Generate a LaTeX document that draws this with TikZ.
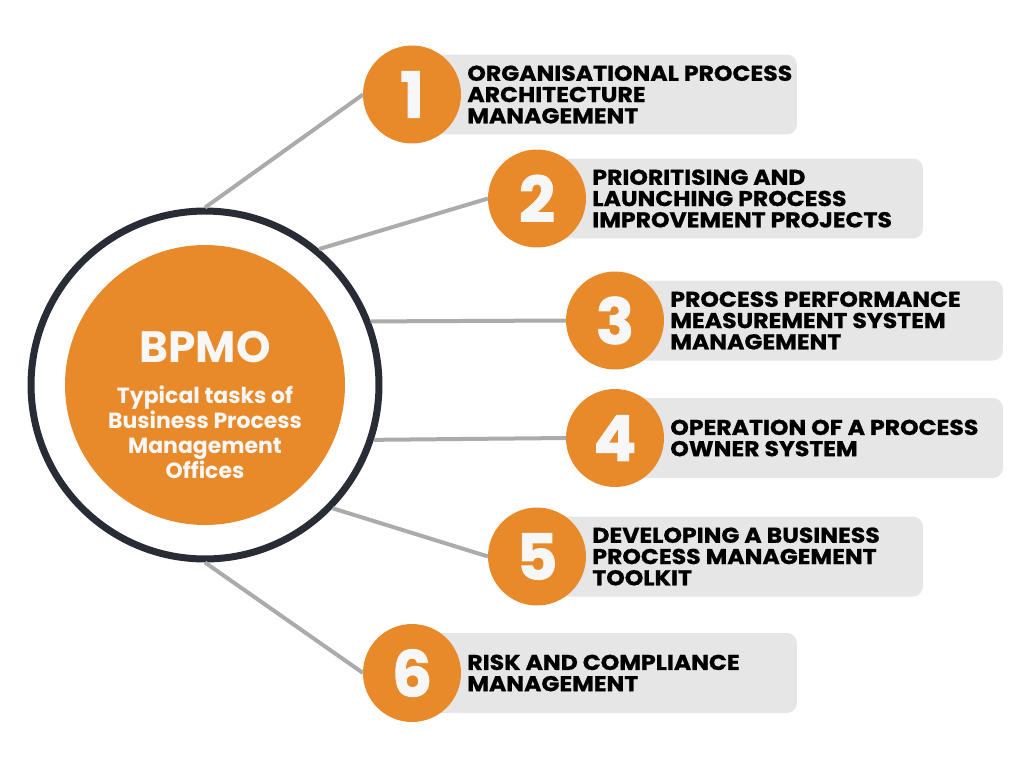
\documentclass[tikz,border=0pt]{standalone}
\usepackage{fontspec}
\setmainfont{Poppins}
\usetikzlibrary{positioning}
\definecolor{bpmoorange}{HTML}{E88A2A}
\definecolor{boxgray}{HTML}{E6E6E6}
\definecolor{linkgray}{HTML}{ABABAB}
\definecolor{ringdark}{HTML}{272C35}
\definecolor{softwhite}{HTML}{F7F7F7}

\begin{document}
\begin{tikzpicture}[x=0.02cm,y=-0.02cm,
    outerring/.style={circle,draw=ringdark,line width=0.14cm,fill=white,minimum size=6.96cm},
    hub/.style={circle,fill=bpmoorange,minimum size=5.6cm},
    num/.style={circle,fill=bpmoorange,minimum size=1.96cm,inner sep=0pt,outer sep=0pt,
      text=softwhite,font=\fontsize{36}{36}\selectfont\bfseries\addfontfeatures{FakeBold=1.5}},
    taskbox/.style={fill=boxgray,rounded corners=0.2cm,minimum height=1.6cm,anchor=west,outer sep=0pt},
    tasktext/.style={align=left,inner sep=0pt,
      font=\fontsize{12.2}{12.1}\selectfont\bfseries\addfontfeatures{FakeStretch=1.1,FakeBold=1}},
    link/.style={draw=linkgray,line width=0.08cm}]
  \useasboundingbox (0,0) rectangle (1024,768);

  % centre
  \node[outerring] (ring) at (205,385) {};
  \node[hub] (hub) at (205,385) {};
  \node[text=softwhite,font=\fontsize{25}{25}\selectfont\bfseries] (title) at (205,347.5) {BPMO};
  \node[text=softwhite,align=center,inner sep=0pt,
    font=\fontsize{12.5}{14.2}\selectfont\bfseries] (subtitle) at (205,432)
    {Typical tasks of\\Business Process\\Management\\Offices};

  % tasks
  \node[taskbox,minimum width=7.7cm]  (b1) at (412,94.5) {};
  \node[taskbox,minimum width=7.72cm] (b2) at (537,198.5) {};
  \node[taskbox,minimum width=7.76cm] (b3) at (615,320.5) {};
  \node[taskbox,minimum width=7.76cm] (b4) at (615,438) {};
  \node[taskbox,minimum width=7.72cm] (b5) at (537,556.5) {};
  \node[taskbox,minimum width=7.7cm]  (b6) at (412,673) {};

  \node[num] (n1) at (b1.west) {1};
  \node[num] (n2) at (b2.west) {2};
  \node[num] (n3) at (b3.west) {3};
  \node[num] (n4) at (b4.west) {4};
  \node[num] (n5) at (b5.west) {5};
  \node[num] (n6) at (b6.west) {6};

  \node[tasktext,right=0.12cm of n1] (t1) {ORGANISATIONAL PROCESS\\ARCHITECTURE\\MANAGEMENT};
  \node[tasktext,right=0.12cm of n2] (t2) {PRIORITISING AND\\LAUNCHING PROCESS\\IMPROVEMENT PROJECTS};
  \node[tasktext,right=0.12cm of n3] (t3) {PROCESS PERFORMANCE\\MEASUREMENT SYSTEM\\MANAGEMENT};
  \node[tasktext,right=0.12cm of n4] (t4) {OPERATION OF A PROCESS\\OWNER SYSTEM};
  \node[tasktext,right=0.12cm of n5] (t5) {DEVELOPING A BUSINESS\\PROCESS MANAGEMENT\\TOOLKIT};
  \node[tasktext,right=0.12cm of n6] (t6) {RISK AND COMPLIANCE\\MANAGEMENT};

  % spokes
  \draw[link] (ring.90) -- (n1.west);
  \draw[link] (ring.50) -- (n2.west);
  \draw[link] (ring.21) -- (n3.west);
  \draw[link] (ring.-18) -- (n4.west);
  \draw[link] (ring.-44) -- (n5.west);
  \draw[link] (ring.-90) -- (n6.west);
\end{tikzpicture}
\end{document}
